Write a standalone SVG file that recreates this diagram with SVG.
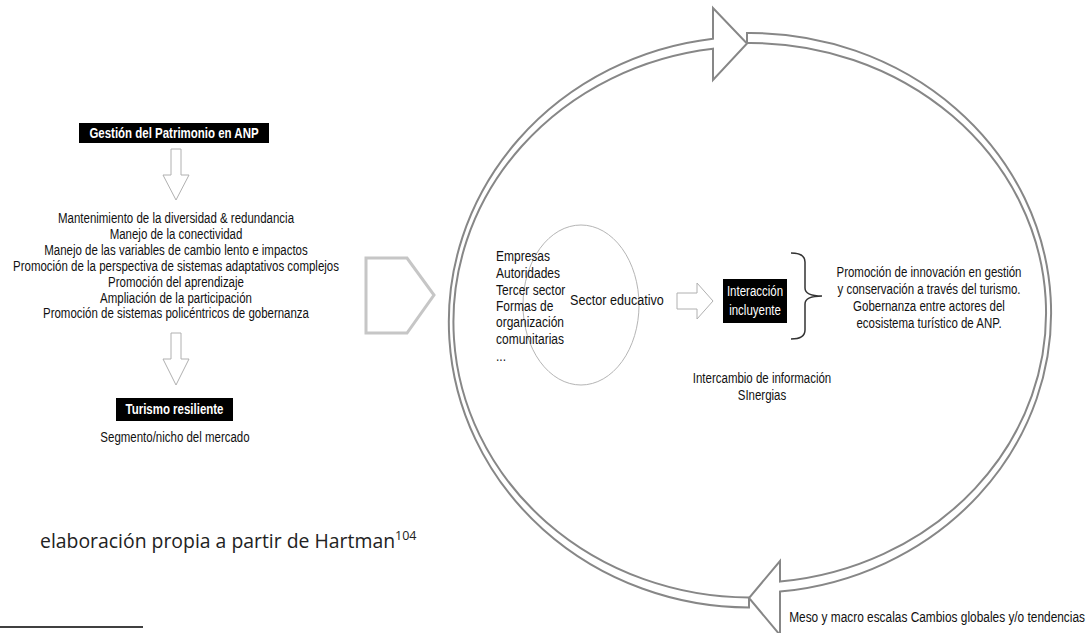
<svg xmlns="http://www.w3.org/2000/svg" width="1090" height="633" viewBox="0 0 1090 633">
<style>
.t{font-family:"Liberation Sans","Arial",sans-serif;fill:#111111}
.l{font-size:14px;text-anchor:middle}
.i{font-size:15px}
.s{font-size:14px}
.m{text-anchor:middle}
.e{text-anchor:end}
.w{fill:#ffffff}
.b{font-weight:bold;font-size:14px;text-anchor:middle}
.ring{fill:#ffffff;stroke:#878787;stroke-width:2;stroke-linejoin:miter}
.harrow{fill:#ffffff;stroke:#b0b0b0;stroke-width:1}
.src{font-family:"Open Sans","Noto Sans",sans-serif;fill:#222222}
</style>
<rect x="0" y="0" width="1090" height="633" fill="#ffffff"/>

<g id="connectors">
  <path class="ring" d="M749,607.5 A301.5,285.5 0 0 1 713,38.7 L713,8 L747,43.5 L713,80 L713,48.7 A297,275.5 0 0 0 749,597.5 Z"/>
  <path class="ring" d="M747,33 A301,280 0 0 1 780,591.6 L780,635 L749,598 L780,561 L780,581.6 A296,270 0 0 0 747,43 Z"/>
  <path class="harrow" d="M171,149 L181,149 L181,175 L189,175 L176,200 L163,175 L171,175 Z"/>
  <path class="harrow" d="M171,333 L181,333 L181,359 L189,359 L176,385 L163,359 L171,359 Z"/>
  <path d="M366,258 L407,258 L434,295 L407,333 L366,333 Z" fill="none" stroke="#c6c6c6" stroke-width="3"/>
  <path class="harrow" d="M677,293 L697,293 L697,283 L713,301 L697,319 L697,309 L677,309 Z"/>
  <path d="M791,253 Q805,253 805,262 L805,288 Q805,296 822,296 Q805,296 805,304 L805,330 Q805,339 791,339" fill="none" stroke="#333333" stroke-width="1.5"/>
</g>

<g id="gestion">
  <rect x="79" y="123" width="190" height="20" fill="#000000"/>
  <text class="t b w" transform="translate(174 0) scale(0.82 1)" x="0" y="138">Gestión del Patrimonio en ANP</text>
</g>

<g id="principios">
  <text class="t l" transform="translate(176 0) scale(0.82 1)" x="0" y="223">Mantenimiento de la diversidad &amp; redundancia</text>
  <text class="t l" transform="translate(176 0) scale(0.82 1)" x="0" y="239">Manejo de la conectividad</text>
  <text class="t l" transform="translate(176 0) scale(0.82 1)" x="0" y="255">Manejo de las variables de cambio lento e impactos</text>
  <text class="t l" transform="translate(176 0) scale(0.82 1)" x="0" y="271">Promoción de la perspectiva de sistemas adaptativos complejos</text>
  <text class="t l" transform="translate(176 0) scale(0.82 1)" x="0" y="287">Promoción del aprendizaje</text>
  <text class="t l" transform="translate(176 0) scale(0.82 1)" x="0" y="303">Ampliación de la participación</text>
  <text class="t l" transform="translate(176 0) scale(0.82 1)" x="0" y="318">Promoción de sistemas policéntricos de gobernanza</text>
</g>

<g id="turismo">
  <rect x="116" y="398" width="117" height="23" fill="#000000"/>
  <text class="t b w" transform="translate(174.5 0) scale(0.82 1)" x="0" y="414">Turismo resiliente</text>
  <text class="t l" transform="translate(175 0) scale(0.82 1)" x="0" y="442">Segmento/nicho del mercado</text>
</g>

<g id="actores">
  <ellipse cx="581" cy="305" rx="58" ry="80" fill="none" stroke="#b5b5b5" stroke-width="1"/>
  <text class="t i" transform="translate(496 0) scale(0.8 1)" x="0" y="261">Empresas</text>
  <text class="t i" transform="translate(496 0) scale(0.8 1)" x="0" y="278">Autoridades</text>
  <text class="t i" transform="translate(496 0) scale(0.8 1)" x="0" y="295">Tercer sector</text>
  <text class="t i" transform="translate(496 0) scale(0.8 1)" x="0" y="311">Formas de</text>
  <text class="t i" transform="translate(496 0) scale(0.8 1)" x="0" y="327">organización</text>
  <text class="t i" transform="translate(496 0) scale(0.8 1)" x="0" y="344">comunitarias</text>
  <text class="t i" transform="translate(496 0) scale(0.8 1)" x="0" y="361">...</text>
  <text class="t i" transform="translate(570 0) scale(0.84 1)" x="0" y="305">Sector educativo</text>
</g>

<g id="interaccion">
  <rect x="723" y="279" width="64" height="44" fill="#000000"/>
  <text class="t s w m" transform="translate(755 0) scale(0.82 1)" x="0" y="296">Interacción</text>
  <text class="t s w m" transform="translate(755 0) scale(0.82 1)" x="0" y="315">incluyente</text>
</g>

<g id="resultados">
  <text class="t s m" transform="translate(929 0) scale(0.82 1)" x="0" y="277">Promoción de innovación en gestión</text>
  <text class="t s m" transform="translate(929 0) scale(0.82 1)" x="0" y="294">y conservación a través del turismo.</text>
  <text class="t s m" transform="translate(929 0) scale(0.82 1)" x="0" y="311">Gobernanza entre actores del</text>
  <text class="t s m" transform="translate(929 0) scale(0.82 1)" x="0" y="328">ecosistema turístico de ANP.</text>
</g>

<g id="intercambio">
  <text class="t s m" transform="translate(762 0) scale(0.82 1)" x="0" y="383">Intercambio de información</text>
  <text class="t s m" transform="translate(762 0) scale(0.82 1)" x="0" y="400">SInergias</text>
</g>

<g id="escalas">
  <text class="t e" font-size="14.5" transform="translate(1085 0) scale(0.82 1)" x="0" y="622">Meso y macro escalas Cambios globales y/o tendencias</text>
</g>

<g id="fuente">
  <text class="src" x="40" y="548" font-size="19.4">elaboración propia a partir de Hartman<tspan font-size="12.5" dy="-8">104</tspan></text>
  <line x1="0" y1="627" x2="143" y2="627" stroke="#000000" stroke-width="1.5"/>
</g>
</svg>
